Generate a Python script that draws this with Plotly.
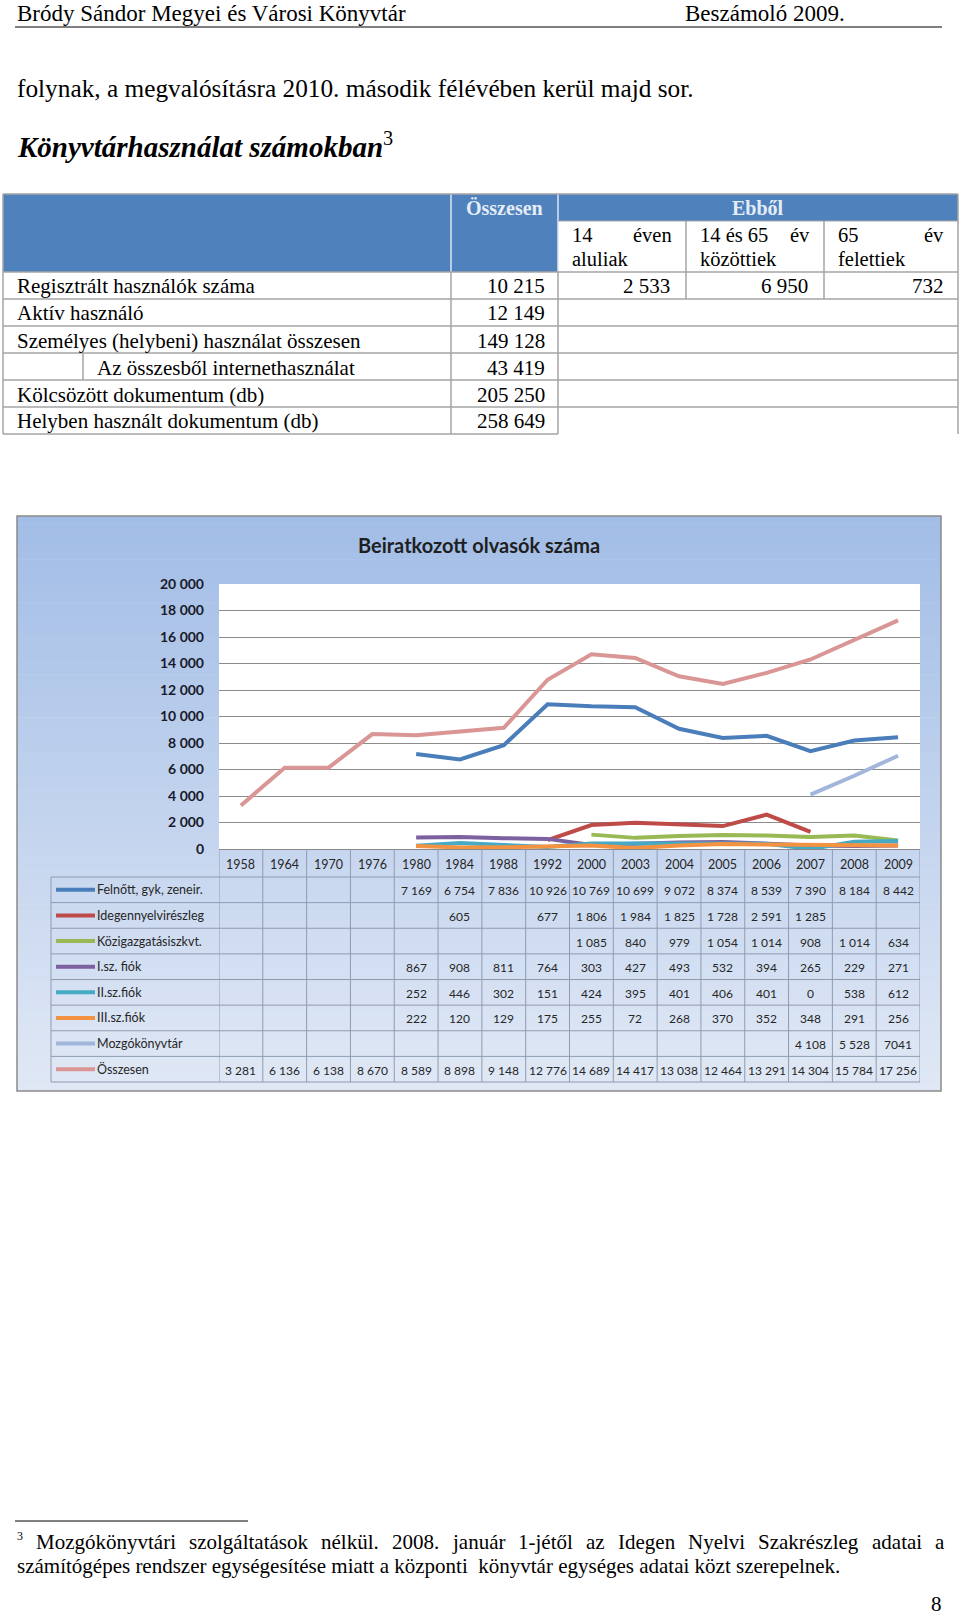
import plotly.graph_objects as go

W, H = 960, 1619
def X(px): return px / W
def Y(py): return 1 - py / H

# ---------------- data ----------------
years = ["1958", "1964", "1970", "1976", "1980", "1984", "1988", "1992",
         "2000", "2003", "2004", "2005", "2006", "2007", "2008", "2009"]
N = None
felnott = [N, N, N, N, 7169, 6754, 7836, 10926, 10769, 10699, 9072, 8374, 8539, 7390, 8184, 8442]
idegen = [N, N, N, N, N, 605, N, 677, 1806, 1984, 1825, 1728, 2591, 1285, N, N]
kozig = [N, N, N, N, N, N, N, N, 1085, 840, 979, 1054, 1014, 908, 1014, 634]
i_fiok = [N, N, N, N, 867, 908, 811, 764, 303, 427, 493, 532, 394, 265, 229, 271]
ii_fiok = [N, N, N, N, 252, 446, 302, 151, 424, 395, 401, 406, 401, 0, 538, 612]
iii_fiok = [N, N, N, N, 222, 120, 129, 175, 255, 72, 268, 370, 352, 348, 291, 256]
mozgo = [N, N, N, N, N, N, N, N, N, N, N, N, N, 4108, 5528, 7041]
osszesen = [3281, 6136, 6138, 8670, 8589, 8898, 9148, 12776, 14689, 14417, 13038, 12464, 13291, 14304, 15784, 17256]

series_names = ["Felnőtt, gyk, zeneir.", "Idegennyelvirészleg", "Közigazgatásiszkvt.",
                "I.sz. fiók", "II.sz.fiók", "III.sz.fiók", "Mozgókönyvtár", "Összesen"]
series_values = [felnott, idegen, kozig, i_fiok, ii_fiok, iii_fiok, mozgo, osszesen]
series_colors = ["#4a7ebb", "#be4b48", "#98b954", "#7d60a0", "#46aac5", "#f39241", "#a2b6dc", "#d99694"]
text_overrides = {("Mozgókönyvtár", "2009"): "7041"}

table_rows = ["Regisztrált használók száma", "Aktív használó",
              "Személyes (helybeni) használat összesen", "Az összesből internethasználat",
              "Kölcsözött dokumentum (db)", "Helyben használt dokumentum (db)"]
table_totals = [10215, 12149, 149128, 43419, 205250, 258649]
reg_breakdown = [2533, 6950, 732]

def fmt(v):
    return f"{v:,}".replace(",", " ")

SERIF = "Liberation Serif"
SANS = "Lato"

shapes = []
annos = []

def line(x0, y0, x1, y1, color="#a5a5a5", width=1.5, layer="above"):
    shapes.append(dict(type="line", xref="paper", yref="paper", x0=X(x0), y0=Y(y0),
                       x1=X(x1), y1=Y(y1), line=dict(color=color, width=width), layer=layer))

def rect(x0, y0, x1, y1, fill, lc=None, lw=0, layer="below"):
    shapes.append(dict(type="rect", xref="paper", yref="paper", x0=X(x0), y0=Y(y1),
                       x1=X(x1), y1=Y(y0), fillcolor=fill,
                       line=dict(color=lc or "rgba(0,0,0,0)", width=lw), layer=layer))

def text(x, y, s, size, anchor="left", family=SERIF, color="#000000", xref="paper"):
    annos.append(dict(x=(X(x) if xref == "paper" else x), y=Y(y), xref=xref, yref="paper",
                      text=s, showarrow=False, xanchor=anchor, yanchor="middle",
                      font=dict(family=family, size=size, color=color)))

# ---------------- document header / body ----------------
text(15, 13, "Bródy Sándor Megyei és Városi Könyvtár", 23)
text(847, 13, "Beszámoló 2009.", 23, anchor="right")
line(15, 27, 942, 27, color="#7f7f7f", width=2)
text(15, 88, "folynak, a megvalósításra 2010. második félévében kerül majd sor.", 25.3)
text(15, 145, "<b><i>Könyvtárhasználat számokban</i></b><sup>3</sup>", 29)

# ---------------- top table ----------------
TL, C1, C2, C3, C4, TR = 3, 451, 558, 686, 824, 958
TT, ST, HB = 194, 221, 272
RB = [272, 299, 326, 353, 380, 407, 434]
HB_BLUE = "#4f81bd"
rect(TL, TT, C2, HB, HB_BLUE)
rect(C2, TT, TR, ST, HB_BLUE)
rect(C2, ST, TR, HB, "#ffffff")
line(C1, TT, C1, HB, color="#dce6f2", width=1.5)
line(C2, TT, C2, HB, color="#dce6f2", width=1.5)
line(TL, TT, TR, TT, color="#a5a5a5", width=1.5)
line(C2, ST, TR, ST, color="#a5a5a5", width=1)
line(C3, ST, C3, RB[1], color="#a5a5a5", width=1.5)
line(C4, ST, C4, RB[1], color="#a5a5a5", width=1.5)
line(TR, TT, TR, RB[-1], color="#a5a5a5", width=1.5)
line(TL, TT, TL, RB[-1], color="#a5a5a5", width=1.5)
line(C1, HB, C1, RB[-1], color="#a5a5a5", width=1.5)
line(C2, HB, C2, RB[-1], color="#a5a5a5", width=1.5)
for k, yb in enumerate(RB):
    line(TL, yb, TR if k < len(RB) - 1 else C2, yb, color="#a5a5a5", width=1.5)
line(83, RB[3], 83, RB[4], color="#a5a5a5", width=1.5)

text((C1 + C2) / 2, 208, "<b>Összesen</b>", 20, anchor="center", color="#e4ecf7")
text((C2 + TR) / 2, 208, "<b>Ebből</b>", 20, anchor="center", color="#e4ecf7")
sub_heads = [("14", "éven", "aluliak"), ("14 és 65", "év", "közöttiek"), ("65", "év", "felettiek")]
sub_x = [(C2, C3), (C3, C4), (C4, TR)]
for (a, b, c), (x0, x1) in zip(sub_heads, sub_x):
    text(x0 + 12, 235, a, 20.5)
    text(x1 - 12, 235, b, 20.5, anchor="right")
    text(x0 + 12, 259, c, 20.5)

for k, (name, val) in enumerate(zip(table_rows, table_totals)):
    yc = (RB[k] + RB[k + 1]) / 2 + 1
    text(95 if k == 3 else 15, yc, name, 21)
    text(C2 - 11, yc, fmt(val), 21, anchor="right")
for v, xr in zip(reg_breakdown, [C3 - 14, C4 - 14, TR - 12]):
    text(xr, (RB[0] + RB[1]) / 2 + 1, fmt(v), 21, anchor="right")

# ---------------- chart container with gradient ----------------
CL, CT, CR, CB = 17, 516, 941, 1091
PL, PT, PR, PB = 219, 584, 920, 849
top_c = (162, 189, 230)
bot_c = (224, 232, 245)
nb = 80
for i in range(nb):
    t = i / (nb - 1)
    c = tuple(int(round(top_c[j] + (bot_c[j] - top_c[j]) * t)) for j in range(3))
    y0 = CT + (CB - CT) * i / nb
    y1 = CT + (CB - CT) * (i + 1) / nb + 0.6
    rect(CL, y0, CR, min(y1, CB), "rgb(%d,%d,%d)" % c)
rect(PL, PT, PR, PB, "#ffffff")
rect(CL, CT, CR, CB, "rgba(0,0,0,0)", lc="#8a8a8a", lw=1.5, layer="above")

text(479, 545, "<b>Beiratkozott olvasók száma</b>", 20, anchor="center", family=SANS, color="#1f1f1f")

# ---------------- data table below the plot ----------------
GRID = "#8f9bb0"
ROW_TOP = 877
RH = (1082 - ROW_TOP) / 8
TB = 1082
LEG_L = 51
for i in range(len(years) + 1):
    shapes.append(dict(type="line", xref="x", yref="paper", x0=i - 0.5, x1=i - 0.5,
                       y0=Y(PB), y1=Y(TB), line=dict(color=GRID, width=1), layer="above"))
line(LEG_L, ROW_TOP, LEG_L, TB, color=GRID, width=1)
for r in range(9):
    yy = ROW_TOP + r * RH
    line(LEG_L, yy, PR, yy, color=GRID, width=1)

for i, yr in enumerate(years):
    text(i, (PB + ROW_TOP) / 2 + 1, yr, 12.5, anchor="center", family=SANS,
         color="#262626", xref="x")

for r, (name, vals, col) in enumerate(zip(series_names, series_values, series_colors)):
    yc = ROW_TOP + r * RH + RH / 2
    line(56, yc, 95, yc, color=col, width=4)
    text(95, yc, name, 12.5, family=SANS, color="#262626")
    for i, (yr, v) in enumerate(zip(years, vals)):
        if v is None:
            continue
        s = text_overrides.get((name, yr), fmt(v))
        text(i, yc + 1, s, 12, anchor="center", family=SANS, color="#262626", xref="x")

# ---------------- traces ----------------
fig = go.Figure()
for name, vals, col in zip(series_names, series_values, series_colors):
    fig.add_trace(go.Scatter(x=years, y=vals, mode="lines", name=name,
                             line=dict(color=col, width=4), connectgaps=False,
                             showlegend=False, hoverinfo="skip"))

# ---------------- footnote ----------------
line(15, 1521, 248, 1521, color="#000000", width=1)
text(15, 1536, "3", 12)
words = ["Mozgókönyvtári", "szolgáltatások", "nélkül.", "2008.", "január", "1-jétől",
         "az", "Idegen", "Nyelvi", "Szakrészleg", "adatai", "a"]
word_x = [34, 187, 319, 390, 450, 516, 584, 616, 686, 756, 870, 933]
for w_, xw in zip(words, word_x):
    text(xw, 1542, w_, 21)
text(15, 1566, "számítógépes rendszer egységesítése miatt a központi  könyvtár egységes adatai közt szerepelnek.", 21)
text(944, 1604, "8", 21, anchor="right")

fig.update_layout(
    width=W, height=H, autosize=False,
    margin=dict(l=0, r=0, t=0, b=0, pad=0, autoexpand=False),
    paper_bgcolor="#ffffff", plot_bgcolor="rgba(0,0,0,0)",
    separators=", ",
    shapes=shapes, annotations=annos,
    xaxis=dict(domain=[X(PL), X(PR)], type="category", categoryorder="array",
               categoryarray=years, range=[-0.5, len(years) - 0.5], automargin=False,
               showticklabels=False, showgrid=False, zeroline=False,
               showline=True, linecolor="#8a8a8a", linewidth=1, fixedrange=True),
    yaxis=dict(domain=[Y(PB), Y(PT)], range=[0, 20000], dtick=2000, tick0=0, automargin=False,
               tickformat=",d", showgrid=True, gridcolor="#8c8c8c", gridwidth=1,
               zeroline=False, showline=False, ticklabelstandoff=14,
               tickfont=dict(family=SANS, size=14, color="#1a1a2a", weight="bold"),
               fixedrange=True),
    hovermode=False,
)

fig.write_html("out.html", config={"displayModeBar": False},
               post_script="document.body.style.margin='0';document.body.style.overflow='hidden';")
